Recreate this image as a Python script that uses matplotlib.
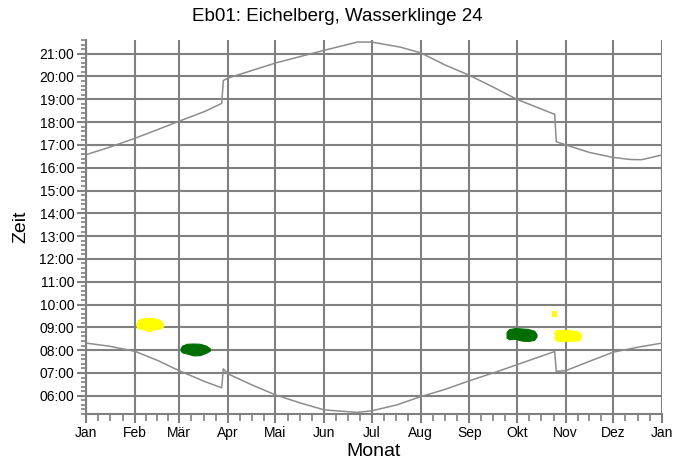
import matplotlib
matplotlib.use("Agg")
import matplotlib.pyplot as plt
import numpy as np

plt.rcParams['font.family'] = ['Liberation Sans', 'DejaVu Sans']

# day of year (0 = 1 Jan) and times in hours
sunset_day = [0, 15, 31, 45, 59, 75, 86, 87, 90, 120, 151, 172, 181, 199, 212,
              228, 243, 259, 273, 297, 298, 304, 319, 334, 345, 352, 365]
sunset_time = [16.57, 16.90, 17.29, 17.66, 18.04, 18.46, 18.82, 19.82, 19.93, 20.59,
               21.15, 21.51, 21.51, 21.29, 21.04, 20.49, 20.05, 19.50, 19.00,
               18.34, 17.14, 17.00, 16.67, 16.45, 16.36, 16.35, 16.56]

sunrise_day = [0, 15, 31, 46, 59, 75, 86, 87, 90, 105, 120, 136, 151, 172, 181,
               197, 212, 228, 243, 258, 273, 297, 298, 304, 319, 334, 349, 365]
sunrise_time = [8.31, 8.17, 7.95, 7.53, 7.10, 6.63, 6.35, 7.18, 6.96, 6.48, 6.04,
                5.68, 5.38, 5.27, 5.34, 5.60, 5.96, 6.29, 6.66, 7.00, 7.36,
                7.94, 7.07, 7.10, 7.51, 7.91, 8.12, 8.31]

# shadow periods: (day, upper time, lower time)
feb_day = [32, 33, 36, 40, 44, 47, 49]
feb_top = [9.15, 9.32, 9.40, 9.41, 9.40, 9.32, 9.15]
feb_bot = [9.05, 8.95, 8.93, 8.83, 8.93, 8.95, 9.05]

mar_day = [60, 61, 64, 68, 72, 76, 78.5]
mar_top = [8.10, 8.20, 8.28, 8.29, 8.28, 8.20, 8.08]
mar_bot = [7.98, 7.90, 7.85, 7.77, 7.78, 7.88, 7.98]

oct_day = [266.5, 268, 272, 276, 280, 284, 285.5]
oct_top = [8.80, 8.92, 8.97, 8.95, 8.93, 8.85, 8.70]
oct_bot = [8.55, 8.48, 8.50, 8.42, 8.40, 8.45, 8.60]

nov_day = [297, 298, 301, 305, 309, 312, 313.7]
nov_top = [8.82, 8.88, 8.88, 8.90, 8.85, 8.82, 8.70]
nov_bot = [8.48, 8.42, 8.40, 8.40, 8.42, 8.42, 8.55]

dot_day = [295.6, 298.0]
dot_top = [9.72, 9.72]
dot_bot = [9.50, 9.50]

months = ['Jan', 'Feb', 'Mär', 'Apr', 'Mai', 'Jun', 'Jul', 'Aug', 'Sep',
          'Okt', 'Nov', 'Dez', 'Jan']
month_start = [0, 31, 59, 90, 120, 151, 181, 212, 243, 273, 304, 334, 365]
hours = list(range(6, 22))

grey = '#808080'
fig = plt.figure(figsize=(6.74, 4.73), dpi=100)
ax = fig.add_axes([86/674, 1-414/473, 576/674, 374/473])

ax.set_xlim(0, 365)
ax.set_ylim(5.2, 21.6)

# grid
for m in month_start:
    ax.axvline(m, color=grey, lw=1.5, zorder=1)
for h in hours:
    ax.axhline(h, color=grey, lw=1.5, zorder=1)

ax.plot(sunset_day, sunset_time, color='#8c8c8c', lw=1.1, zorder=3)
ax.plot(sunrise_day, sunrise_time, color='#8c8c8c', lw=1.1, zorder=3)

yellow = '#ffff00'
green = '#006e00'
ax.fill_between(feb_day, feb_bot, feb_top, fc=yellow, ec=yellow, lw=0.8, zorder=4)
ax.fill_between(mar_day, mar_bot, mar_top, fc=green, ec=green, lw=0.8, zorder=4)
ax.fill_between(oct_day, oct_bot, oct_top, fc=green, ec=green, lw=0.8, zorder=4)
ax.fill_between(nov_day, nov_bot, nov_top, fc=yellow, ec=yellow, lw=0.8, zorder=4)
ax.fill_between(dot_day, dot_bot, dot_top, fc=yellow, ec=yellow, lw=0.8, zorder=4)

# ticks
ax.set_xticks(month_start)
ax.set_xticklabels(months, fontsize=10)
minor_x = []
for i in range(12):
    ln = month_start[i+1] - month_start[i]
    minor_x += [month_start[i] + ln*k/4 for k in (1, 2, 3)]
ax.set_xticks(minor_x, minor=True)
ax.set_yticks(hours)
ax.set_yticklabels(['%02d:00' % h for h in hours], fontsize=10)
ax.set_yticks(np.arange(5.2, 21.61, 0.2), minor=True)
ax.tick_params(axis='both', which='major', length=6.5, width=1.5, color=grey, pad=2)
ax.tick_params(axis='x', which='minor', length=5, width=1.2, color=grey)
ax.tick_params(axis='y', which='minor', length=3.5, width=1.2, color=grey)

for s in ['top', 'right']:
    ax.spines[s].set_visible(False)
for s in ['left', 'bottom']:
    ax.spines[s].set_color(grey)
    ax.spines[s].set_linewidth(1.5)

ax.set_xlabel('Monat', fontsize=14, labelpad=2)
ax.set_ylabel('Zeit', fontsize=14, labelpad=7)
fig.suptitle('Eb01: Eichelberg, Wasserklinge 24', fontsize=13.5, x=0.5, y=0.983)

fig.savefig('out.png', dpi=100)
